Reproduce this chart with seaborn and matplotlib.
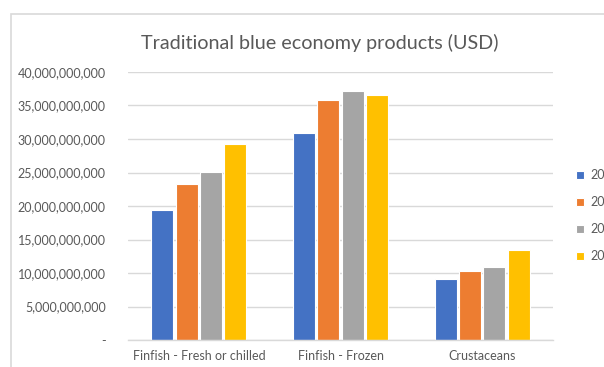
import matplotlib
matplotlib.use("Agg")
import matplotlib.pyplot as plt
from matplotlib.patches import Rectangle
from matplotlib.ticker import FuncFormatter
import seaborn as sns
import pandas as pd

categories = ["Finfish - Fresh or chilled", "Finfish - Frozen", "Crustaceans"]
years = ["2019", "2020", "2021", "2022"]
values_2019 = [19.4e9, 30.9e9, 9.1e9]
values_2020 = [23.35e9, 35.8e9, 10.3e9]
values_2021 = [25.1e9, 37.2e9, 10.9e9]
values_2022 = [29.2e9, 36.55e9, 13.45e9]
colors = ["#4472C4", "#ED7D31", "#A5A5A5", "#FFC000"]

series = [values_2019, values_2020, values_2021, values_2022]
df = pd.DataFrame(
    [(c, y, v) for y, vals in zip(years, series) for c, v in zip(categories, vals)],
    columns=["category", "year", "value"],
)

sns.set_theme(style="white")
plt.rcParams["font.family"] = ["Lato", "DejaVu Sans"]
text_color = "#595959"
grid_color = "#D9D9D9"

fig = plt.figure(figsize=(6.04, 3.67), dpi=100)
ax = fig.add_axes([128 / 604, 1 - 340 / 367, 425 / 604, 268 / 367])

sns.barplot(data=df, x="category", y="value", hue="year", order=categories,
            hue_order=years, palette=colors, saturation=1, width=0.69, gap=0.1,
            edgecolor="white", linewidth=0.8, ax=ax, legend=True)

ax.set_xlim(-0.5, 2.5)
ax.set_ylim(0, 40e9)
ax.set_yticks([i * 5e9 for i in range(9)])
ax.yaxis.set_major_formatter(FuncFormatter(lambda v, p: "-" if v == 0 else f"{v:,.0f}"))
ax.yaxis.grid(True, color=grid_color, linewidth=1)
ax.set_axisbelow(True)
for side in ["left", "right", "top"]:
    ax.spines[side].set_visible(False)
ax.spines["bottom"].set_color(grid_color)
ax.spines["bottom"].set_linewidth(1)
ax.tick_params(axis="both", length=0, colors=text_color, labelsize=9)
ax.tick_params(axis="y", pad=16)
ax.tick_params(axis="x", pad=7)
ax.set_xlabel("")
ax.set_ylabel("")

ax.legend(loc="upper left", bbox_to_anchor=(576 / 604, 1 - 169 / 367),
          bbox_transform=fig.transFigure, frameon=False, fontsize=9,
          labelcolor=text_color, handlelength=0.6, handleheight=0.6,
          handletextpad=0.55, labelspacing=1.2, borderaxespad=0, borderpad=0)

fig.text(320 / 604, 1 - 43 / 367, "Traditional blue economy products (USD)",
         ha="center", va="center", fontsize=14.2, color=text_color)

fig.patches.append(Rectangle((10.5 / 604, -0.1), 1.2, 1.1 - 14.5 / 367,
                             transform=fig.transFigure, fill=False,
                             edgecolor=grid_color, linewidth=1.2))

fig.savefig("out.png", dpi=100, facecolor="white")
